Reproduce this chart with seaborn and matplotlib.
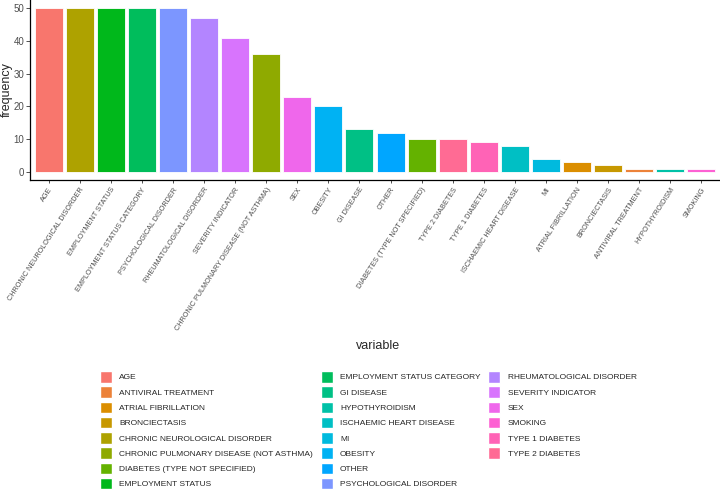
import numpy as np
import pandas as pd
import matplotlib
matplotlib.use('Agg')
import matplotlib.pyplot as plt
from matplotlib.patches import Patch
import seaborn as sns

# Datos
variables = ['AGE', 'CHRONIC NEUROLOGICAL DISORDER', 'EMPLOYMENT STATUS',
             'EMPLOYMENT STATUS CATEGORY', 'PSYCHOLOGICAL DISORDER',
             'RHEUMATOLOGICAL DISORDER', 'SEVERITY INDICATOR',
             'CHRONIC PULMONARY DISEASE (NOT ASTHMA)', 'SEX', 'OBESITY',
             'GI DISEASE', 'OTHER', 'DIABETES (TYPE NOT SPECIFIED)',
             'TYPE 2 DIABETES', 'TYPE 1 DIABETES', 'ISCHAEMIC HEART DISEASE',
             'MI', 'ATRIAL FIBRILLATION', 'BRONCIECTASIS',
             'ANTIVIRAL TREATMENT', 'HYPOTHYROIDISM', 'SMOKING']
frequency = [50, 50, 50, 50, 50, 47, 41, 36, 23, 20, 13, 12, 10, 10, 9, 8,
             4, 3, 2, 1, 1, 1]
y_ticks = [0, 10, 20, 30, 40, 50]


def hue_pal(n, c=100, l=65):
    """Paleta tipo ggplot (hcl) convertida a sRGB"""
    hues = np.linspace(15, 375, n + 1)[:n]
    Xn, Yn, Zn = 95.047, 100.0, 108.883
    un = 4 * Xn / (Xn + 15 * Yn + 3 * Zn)
    vn = 9 * Yn / (Xn + 15 * Yn + 3 * Zn)
    M = np.array([[3.2404542, -1.5371385, -0.4985314],
                  [-0.9692660, 1.8760108, 0.0415560],
                  [0.0556434, -0.2040259, 1.0572252]])
    cols = []
    for h in hues:
        u = c * np.cos(np.radians(h))
        v = c * np.sin(np.radians(h))
        Y = Yn * ((l + 16) / 116) ** 3
        up = u / (13 * l) + un
        vp = v / (13 * l) + vn
        X = Y * 9 * up / (4 * vp)
        Z = Y * (12 - 3 * up - 20 * vp) / (4 * vp)
        rgb = M @ (np.array([X, Y, Z]) / 100)
        rgb = np.where(rgb <= 0.0031308, 12.92 * rgb,
                       1.055 * np.clip(rgb, 0, None) ** (1 / 2.4) - 0.055)
        cols.append(tuple(np.clip(rgb, 0, 1)))
    return cols


legend_order = sorted(variables)
palette = dict(zip(legend_order, hue_pal(len(legend_order))))

df = pd.DataFrame({'variable': variables, 'frequency': frequency})

sns.set_theme(style='ticks')
plt.rcParams['font.family'] = ['Liberation Sans', 'DejaVu Sans']

fig = plt.figure(figsize=(7.2, 4.92), dpi=100)
ax = fig.add_axes([30 / 720, 1 - 180 / 492, 690 / 720, 180 / 492])

sns.barplot(data=df, x='variable', y='frequency', hue='variable',
            order=variables, palette=palette, width=0.9, legend=False,
            saturation=1, edgecolor='white', linewidth=0.6, ax=ax)

ax.set_ylim(-2.5, 52.5)
ax.set_xlim(-0.6, len(variables) - 0.4)
ax.set_yticks(y_ticks)
ax.tick_params(axis='y', labelsize=7, labelcolor='#4D4D4D', color='#333333',
               length=3, width=0.6, pad=1.2)
ax.tick_params(axis='x', labelsize=5.2, labelcolor='#4D4D4D', color='#333333',
               length=2.5, width=0.6, pad=2)
plt.setp(ax.get_xticklabels(), rotation=57, ha='right', va='top',
         rotation_mode='anchor')
for side in ['left', 'bottom']:
    ax.spines[side].set_linewidth(0.9)
    ax.spines[side].set_color('black')
sns.despine(ax=ax)
ax.set_ylabel('')
ax.set_xlabel('')
fig.text(6.5 / 720, 1 - 90 / 492, 'frequency', fontsize=9, rotation=90,
         ha='center', va='center')
fig.text(378 / 720, 1 - 346 / 492, 'variable', fontsize=9,
         ha='center', va='center')

# Leyenda en 3 columnas (8, 8, 6)
handles = [Patch(facecolor=palette[v], edgecolor='white', label=v)
           for v in legend_order]
handles += [Patch(facecolor='none', edgecolor='none', label='')] * 2
fig.legend(handles=handles, ncol=3, loc='upper left',
           bbox_to_anchor=(100 / 720, 1 - 371 / 492), frameon=False,
           fontsize=6.0, handlelength=1.45, handleheight=1.75,
           handletextpad=0.85, labelspacing=0.45, columnspacing=0.95,
           borderaxespad=0, borderpad=0)

fig.savefig('out.png', dpi=100)
